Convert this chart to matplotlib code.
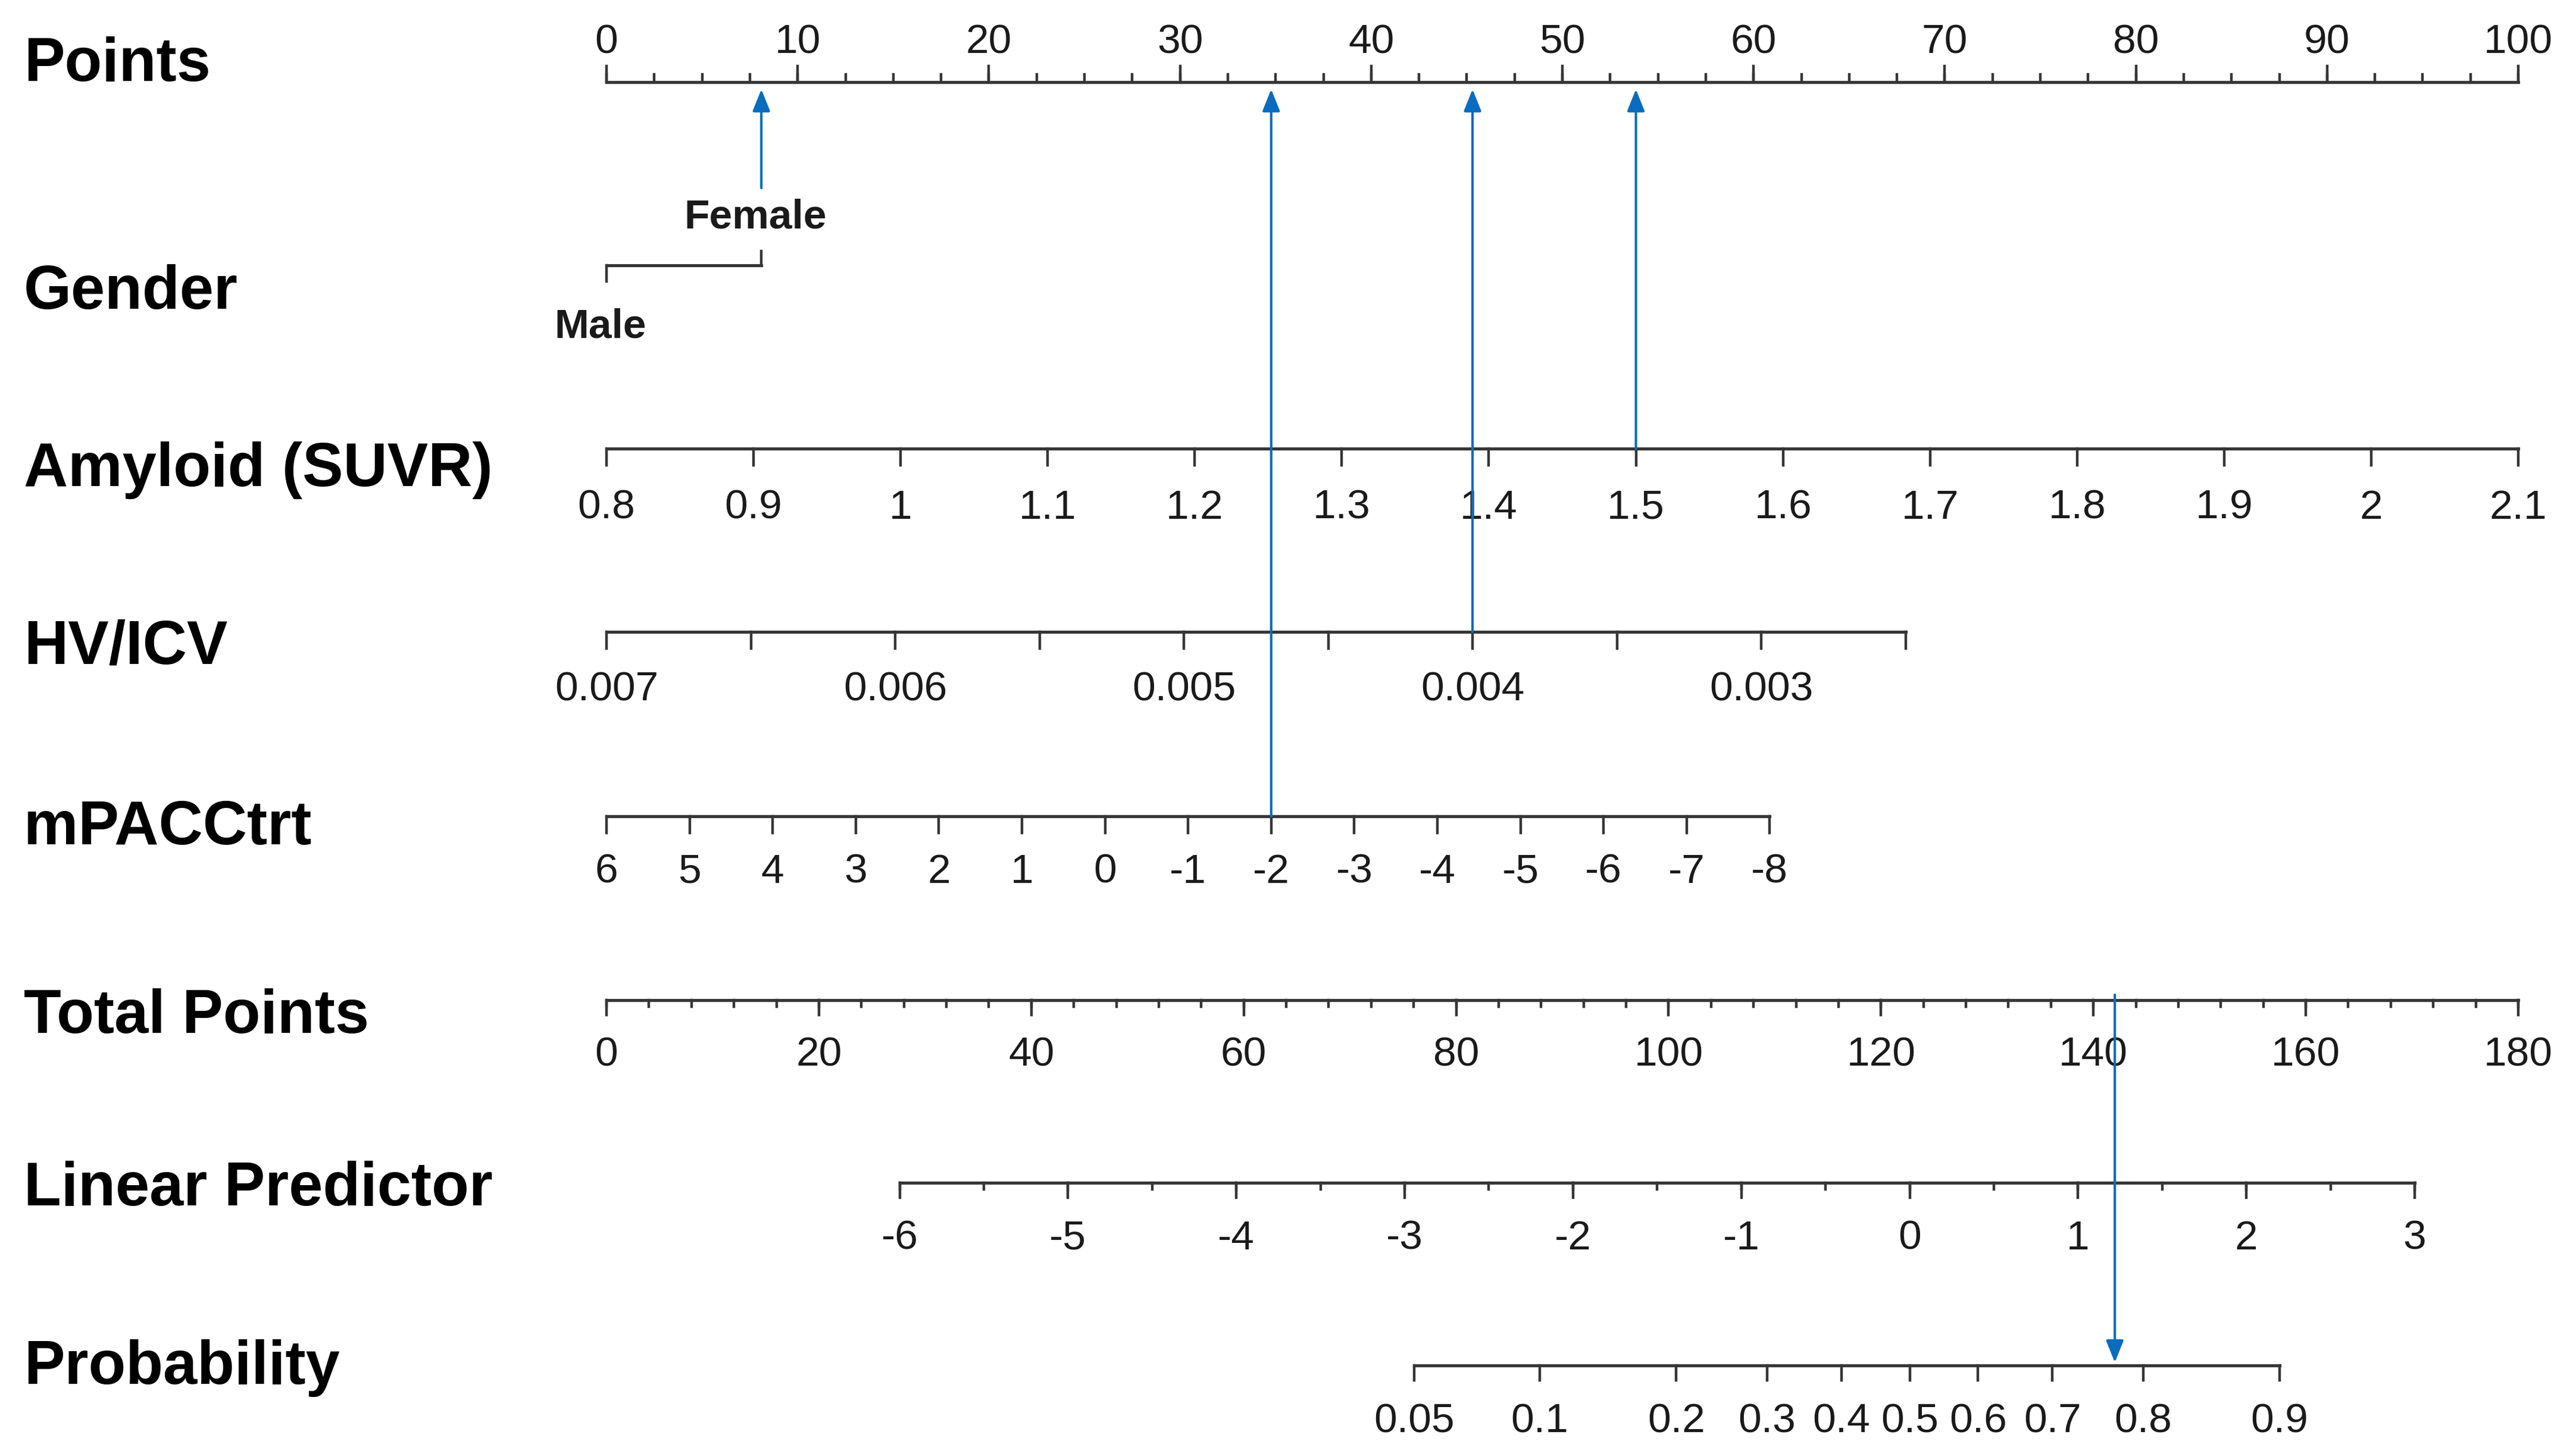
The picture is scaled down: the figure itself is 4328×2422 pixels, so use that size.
import numpy as np
import matplotlib.pyplot as plt

plt.rcParams['font.family'] = ['Liberation Sans', 'DejaVu Sans']

W, H = 4328, 2422

# ---- data ----
points_major = np.arange(0, 101, 10)
points_minor = np.arange(0, 100.01, 2.5)

gender_levels = ['Male', 'Female']
gender_points = [0.0, 8.1]

amyloid_ticks = [0.8, 0.9, 1.0, 1.1, 1.2, 1.3, 1.4, 1.5, 1.6, 1.7, 1.8, 1.9, 2.0, 2.1]
amyloid_labels = ['0.8', '0.9', '1', '1.1', '1.2', '1.3', '1.4', '1.5', '1.6', '1.7',
                  '1.8', '1.9', '2', '2.1']
amyloid_low, amyloid_high = 0.8, 2.1          # 0 .. 100 points

hv_ticks = [0.007, 0.0065, 0.006, 0.0055, 0.005, 0.0045, 0.004, 0.0035, 0.003, 0.0025]
hv_labels = ['0.007', '', '0.006', '', '0.005', '', '0.004', '', '0.003', '']
hv_points_per_unit = 15100.0                  # points gained per unit decrease

mpacc_ticks = list(range(6, -9, -1))
mpacc_labels = [str(v) for v in mpacc_ticks]
mpacc_points_per_unit = 4.346                 # points gained per unit decrease

total_major = np.arange(0, 181, 20)
total_minor = np.arange(0, 181, 4)

lp_ticks = np.arange(-6, 3.01, 0.5)
lp_major = list(range(-6, 4))
lp_zero_total = 122.7                         # total points where LP = 0
total_per_lp = 15.85

prob_ticks = [0.05, 0.1, 0.2, 0.3, 0.4, 0.5, 0.6, 0.7, 0.8, 0.9]
prob_labels = ['0.05', '0.1', '0.2', '0.3', '0.4', '0.5', '0.6', '0.7', '0.8', '0.9']

patient_gender = 'Female'
patient_amyloid = 1.5
patient_hv = 0.004
patient_mpacc = -2


# ---- scale conversions ----
def amyloid_pts(v):
    return (np.asarray(v) - amyloid_low) * 100.0 / (amyloid_high - amyloid_low)


def hv_pts(v):
    return (hv_ticks[0] - np.asarray(v)) * hv_points_per_unit


def mpacc_pts(v):
    return (mpacc_ticks[0] - np.asarray(v)) * mpacc_points_per_unit


def total_x(tp):
    return np.asarray(tp) * 100.0 / 180.0


def lp_x(lp):
    return total_x(lp_zero_total + np.asarray(lp) * total_per_lp)


def prob_x(p):
    p = np.asarray(p)
    return lp_x(np.log(p / (1 - p)))


# ---- layout (pixels) ----
X0, PX_PER_PT = 1019, 32.12
LINE_C = '#363636'
BLUE = '#0a6cbf'
TICK_FS = 50
TITLE_FS = 74

fig = plt.figure(figsize=(W / 100, H / 100), dpi=100)
ax = fig.add_axes([0, 0, 1, 1])
ax.set_xlim(-X0 / PX_PER_PT, (W - X0) / PX_PER_PT)
ax.set_ylim(H, 0)
ax.axis('off')


def draw_line(x1, x2, y):
    ax.plot([x1, x2], [y, y], color=LINE_C, lw=3.7, solid_capstyle='projecting', zorder=2)


def draw_ticks(xs, y, length):
    for x in xs:
        ax.plot([x, x], [y, y + length], color=LINE_C, lw=3.2, zorder=2)


def draw_labels(xs, labels, y, **kw):
    for x, lab in zip(xs, labels):
        if lab:
            ax.text(x, y, lab, ha='center', va='baseline', fontsize=TICK_FS, color='#1a1a1a', **kw)


def title(text, baseline):
    ax.text(-X0 / PX_PER_PT + 40 / PX_PER_PT, baseline, text, ha='left', va='baseline',
            fontsize=TITLE_FS, fontweight='bold', color='black')


# Points
y = 138
draw_line(0, 100, y)
draw_ticks(points_minor, y, -13)
draw_ticks(points_major, y, -27)
draw_labels(points_major, [str(v) for v in points_major], 89)
title('Points', 136)

# Gender
y = 446
draw_line(gender_points[0], gender_points[1], y)
draw_ticks([gender_points[0]], y, 27)
draw_ticks([gender_points[1]], y, -24)
shift = 10 / PX_PER_PT
ax.text(gender_points[0] - shift, 567, gender_levels[0], ha='center', va='baseline',
        fontsize=TICK_FS, fontweight='bold', color='#1a1a1a')
ax.text(gender_points[1] - shift, 384, gender_levels[1], ha='center', va='baseline',
        fontsize=TICK_FS, fontweight='bold', color='#1a1a1a')
title('Gender', 519)

# Amyloid
y = 754
xs = amyloid_pts(amyloid_ticks)
draw_line(xs.min(), xs.max(), y)
draw_ticks(xs, y, 28)
draw_labels(xs, amyloid_labels, 872)
title('Amyloid (SUVR)', 817)

# HV/ICV
y = 1062
xs = hv_pts(hv_ticks)
draw_line(xs.min(), xs.max(), y)
draw_ticks(xs, y, 28)
draw_labels(xs, hv_labels, 1178)
title('HV/ICV', 1116)

# mPACCtrt
y = 1372
xs = mpacc_pts(mpacc_ticks)
draw_line(xs.min(), xs.max(), y)
draw_ticks(xs, y, 28)
draw_labels(xs, mpacc_labels, 1484)
title('mPACCtrt', 1419)

# Total Points
y = 1681
draw_line(total_x(0), total_x(180), y)
draw_ticks(total_x(total_minor), y, 11)
draw_ticks(total_x(total_major), y, 25)
draw_labels(total_x(total_major), [str(v) for v in total_major], 1792)
title('Total Points', 1736)

# Linear Predictor
y = 1988
xs = lp_x(lp_ticks)
draw_line(xs.min(), xs.max(), y)
draw_ticks(xs, y, 11)
draw_ticks(lp_x(lp_major), y, 25)
draw_labels(lp_x(lp_major), [str(v) for v in lp_major], 2100)
title('Linear Predictor', 2026)

# Probability
y = 2295
xs = prob_x(prob_ticks)
draw_line(xs.min(), xs.max(), y)
draw_ticks(xs, y, 25)
draw_labels(xs, prob_labels, 2407)
title('Probability', 2326)

# ---- example patient arrows ----
arrow_kw = dict(arrowstyle='-|>,head_length=0.45,head_width=0.18', color=BLUE, lw=3.0,
                mutation_scale=50, shrinkA=0, shrinkB=0)

g_pts = gender_points[gender_levels.index(patient_gender)]
a_pts = float(amyloid_pts(patient_amyloid))
h_pts = float(hv_pts(patient_hv))
m_pts = float(mpacc_pts(patient_mpacc))
total = g_pts + a_pts + h_pts + m_pts

for x, y_from in [(g_pts, 316), (a_pts, 754), (h_pts, 1062), (m_pts, 1372)]:
    ax.annotate('', xy=(x, 150), xytext=(x, y_from), arrowprops=arrow_kw, zorder=3)

ax.annotate('', xy=(float(total_x(total)), 2290), xytext=(float(total_x(total)), 1672),
            arrowprops=arrow_kw, zorder=3)

fig.savefig('out.png', dpi=100, facecolor='white')
